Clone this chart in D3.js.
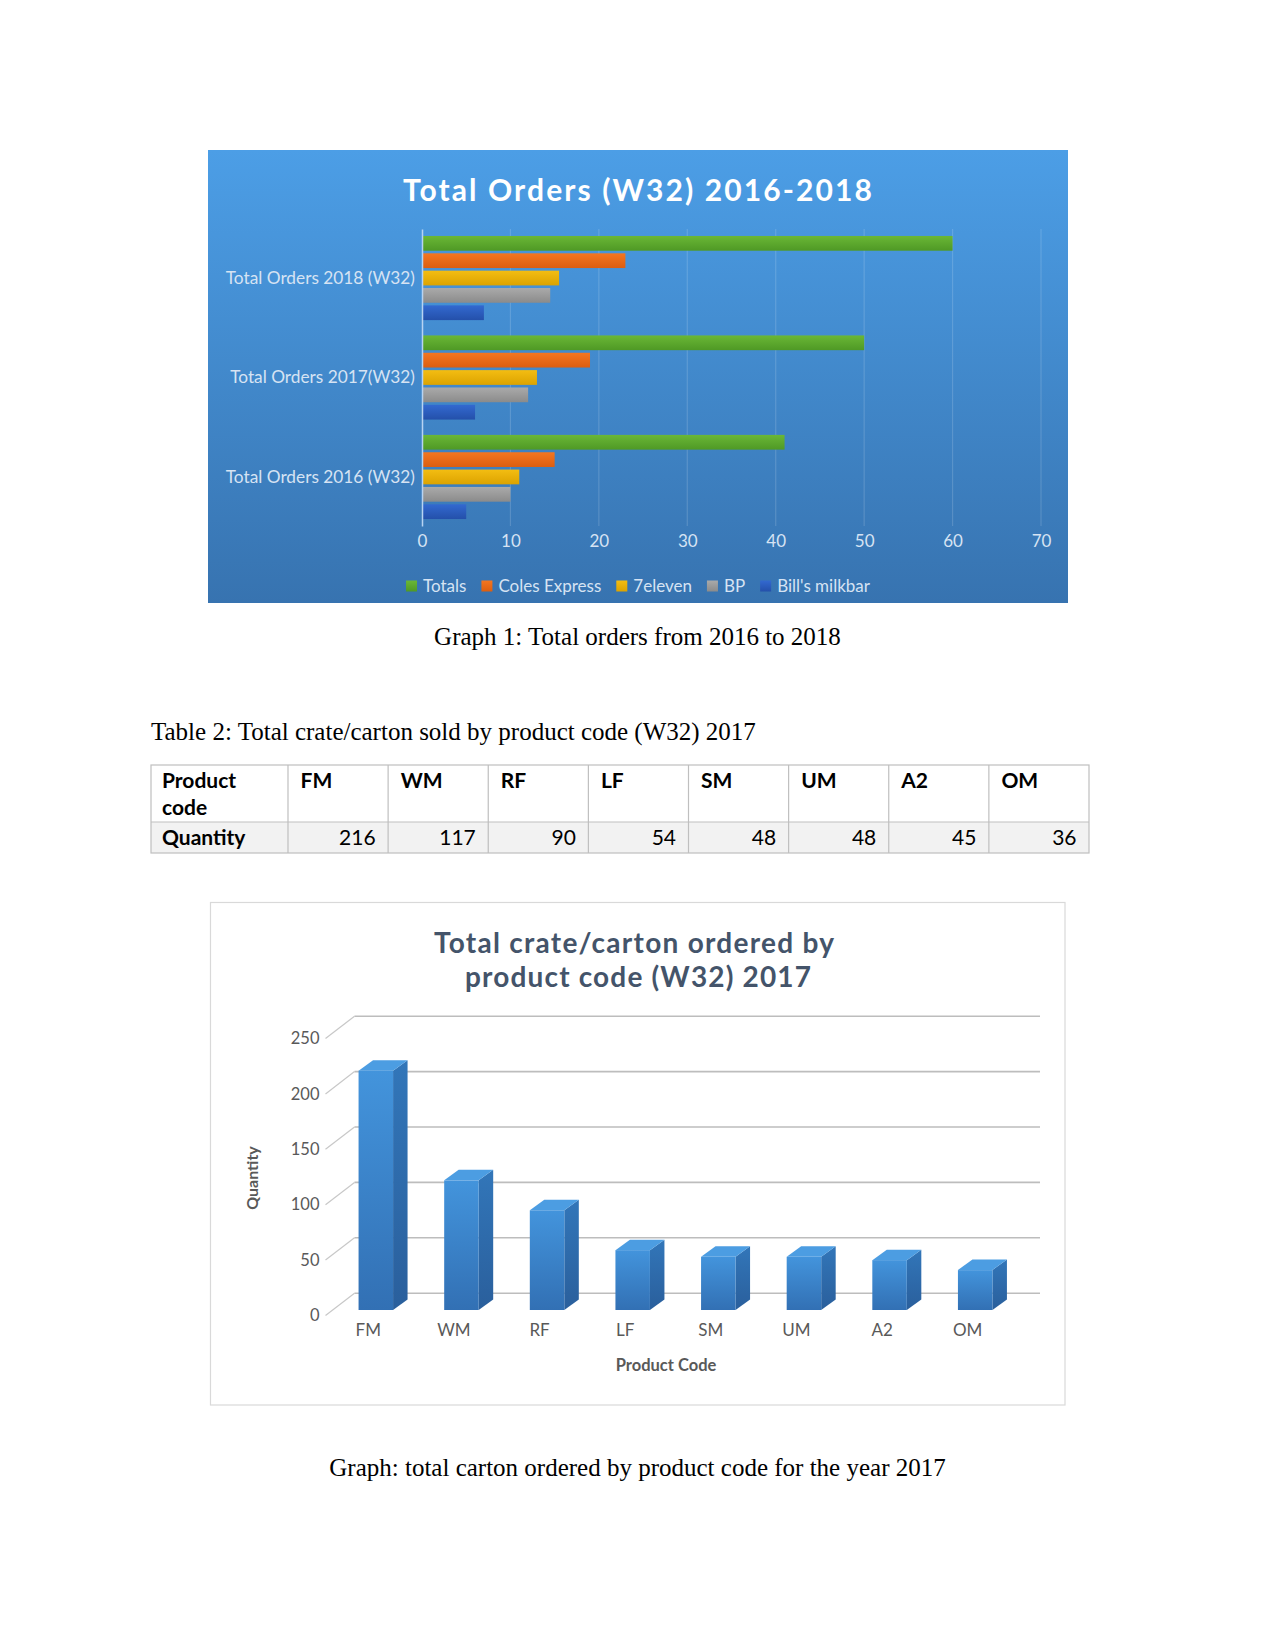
<!DOCTYPE html>
<html>
<head>
<meta charset="utf-8">
<script src="https://cdn.jsdelivr.net/npm/d3@7"></script>
<style>
  body { margin: 0; background: #fff; }
  svg { display: block; }
  .sans { font-family: Lato, "Open Sans", sans-serif; }
  .serif { font-family: "Liberation Serif", "Times New Roman", serif; }
</style>
</head>
<body>
<div id="page"></div>
<script>
// data for graph 1
var years = ["Total Orders 2018 (W32)", "Total Orders 2017(W32)", "Total Orders 2016 (W32)"];
var stores = ["Totals", "Coles Express", "7eleven", "BP", "Bill's milkbar"];
var totals = [60, 50, 41];
var colesExpress = [23, 19, 15];
var sevenEleven = [15.5, 13, 11];
var bp = [14.5, 12, 10];
var billsMilkbar = [7, 6, 5];
var orderTicks = [0, 10, 20, 30, 40, 50, 60, 70];

// data for table 2 and graph 2
var productCodes = ["FM", "WM", "RF", "LF", "SM", "UM", "A2", "OM"];
var quantities = [216, 117, 90, 54, 48, 48, 45, 36];
var quantityTicks = [0, 50, 100, 150, 200, 250];

var svgWidth = 1275;
var svgHeight = 1650;

var svg = d3.select("#page")
  .append("svg")
  .attr("width", svgWidth)
  .attr("height", svgHeight);

svg.append("rect")
  .attr("width", svgWidth)
  .attr("height", svgHeight)
  .attr("fill", "#ffffff");

var defs = svg.append("defs");

function vGradient(id, top, bottom) {
  var g = defs.append("linearGradient")
    .attr("id", id)
    .attr("x1", 0).attr("y1", 0)
    .attr("x2", 0).attr("y2", 1);
  g.append("stop").attr("offset", "0%").attr("stop-color", top);
  g.append("stop").attr("offset", "100%").attr("stop-color", bottom);
}

// ---------- Graph 1 ----------
var box1 = {x: 208, y: 150, w: 860, h: 453};

vGradient("bg1", "#4c9ee6", "#3773b0");
svg.append("rect")
  .attr("x", box1.x)
  .attr("y", box1.y)
  .attr("width", box1.w)
  .attr("height", box1.h)
  .attr("fill", "url(#bg1)");

svg.append("text")
  .classed("sans", true)
  .attr("x", 637.5)
  .attr("y", 201)
  .attr("text-anchor", "middle")
  .attr("font-size", "30px")
  .attr("font-weight", "bold")
  .attr("fill", "#ffffff")
  .attr("textLength", 469)
  .attr("lengthAdjust", "spacing")
  .text("Total Orders (W32) 2016-2018");

var seriesValues = [totals, colesExpress, sevenEleven, bp, billsMilkbar];
var seriesColors = [
  ["#6ab736", "#4f9925"],
  ["#f37621", "#dc5e10"],
  ["#f3bd12", "#dca300"],
  ["#aaaaaa", "#8b8b8b"],
  ["#3369d0", "#2450aa"]
];
seriesColors.forEach(function(c, i) { vGradient("s" + i, c[0], c[1]); });

var xOrders = d3.scaleLinear()
  .domain([0, 70])
  .range([422, 1041]);

var yYears = d3.scaleBand()
  .domain(years)
  .range([229, 526])
  .paddingInner(0.154)
  .paddingOuter(0.07);

var yStores = d3.scaleBand()
  .domain(stores)
  .range([0, yYears.bandwidth()])
  .paddingInner(0.15);

var chart1 = svg.append("g");

// vertical gridlines
chart1.selectAll(".grid1")
  .data(orderTicks.slice(1))
  .enter()
  .append("line")
  .attr("x1", d => xOrders(d))
  .attr("x2", d => xOrders(d))
  .attr("y1", 229)
  .attr("y2", 526)
  .attr("stroke", "#ffffff")
  .attr("stroke-opacity", 0.15)
  .attr("stroke-width", 1.2);

var barRows = [];
years.forEach(function(year, i) {
  stores.forEach(function(store, j) {
    barRows.push({year: year, store: store, idx: j, value: seriesValues[j][i]});
  });
});

chart1.selectAll(".bar1")
  .data(barRows)
  .enter()
  .append("rect")
  .attr("x", xOrders(0))
  .attr("y", d => yYears(d.year) + yStores(d.store))
  .attr("width", d => xOrders(d.value) - xOrders(0))
  .attr("height", yStores.bandwidth())
  .attr("fill", d => "url(#s" + d.idx + ")");

var bottomAxis = d3.axisBottom(xOrders)
  .tickValues(orderTicks)
  .tickSize(0)
  .tickPadding(9);

var xAxis1 = chart1.append("g")
  .attr("transform", "translate(0, 526)")
  .call(bottomAxis);
xAxis1.select(".domain").remove();
xAxis1.selectAll("text")
  .classed("sans", true)
  .attr("font-size", "17px")
  .attr("fill", "#d6e3f3");

var leftAxis = d3.axisLeft(yYears)
  .tickSize(0)
  .tickPadding(7);

var yAxis1 = chart1.append("g")
  .attr("transform", "translate(422, 0)")
  .call(leftAxis);
yAxis1.select(".domain")
  .attr("stroke", "#b7d3f2")
  .attr("stroke-width", 1.5);
yAxis1.selectAll("text")
  .classed("sans", true)
  .attr("font-size", "17.3px")
  .attr("fill", "#d6e3f3");

// legend
var legend = chart1.append("g");
var lx = 0;
stores.forEach(function(store, j) {
  var item = legend.append("g").attr("transform", "translate(" + lx + ",0)");
  item.append("rect")
    .attr("x", 0)
    .attr("y", -5.5)
    .attr("width", 11)
    .attr("height", 11)
    .attr("fill", "url(#s" + j + ")");
  var t = item.append("text")
    .classed("sans", true)
    .attr("x", 17)
    .attr("y", 0)
    .attr("dy", "0.35em")
    .attr("font-size", "17px")
    .attr("fill", "#d6e3f3")
    .text(store);
  lx += 17 + t.node().getComputedTextLength() + 15;
});
lx -= 15;
legend.attr("transform", "translate(" + (638 - lx / 2) + ", 586)");

svg.append("text")
  .classed("serif", true)
  .attr("x", 637.5)
  .attr("y", 645)
  .attr("text-anchor", "middle")
  .attr("font-size", "25px")
  .attr("fill", "#000")
  .text("Graph 1: Total orders from 2016 to 2018");

// ---------- Table 2 ----------
svg.append("text")
  .classed("serif", true)
  .attr("x", 151)
  .attr("y", 740)
  .attr("font-size", "25px")
  .attr("fill", "#000")
  .text("Table 2: Total crate/carton sold by product code (W32) 2017");

var table = svg.append("g");
var tableLeft = 151, firstColRight = 288, tableRight = 1089;
var tableTop = 765, rowDiv = 822, tableBottom = 853;

var colX = d3.scaleBand()
  .domain(productCodes)
  .range([firstColRight, tableRight]);

table.append("rect")
  .attr("x", tableLeft)
  .attr("y", rowDiv)
  .attr("width", tableRight - tableLeft)
  .attr("height", tableBottom - rowDiv)
  .attr("fill", "#f2f2f2");

table.append("rect")
  .attr("x", tableLeft)
  .attr("y", tableTop)
  .attr("width", tableRight - tableLeft)
  .attr("height", tableBottom - tableTop)
  .attr("fill", "none")
  .attr("stroke", "#bfbfbf")
  .attr("stroke-width", 1.2);

table.append("line")
  .attr("x1", tableLeft).attr("x2", tableRight)
  .attr("y1", rowDiv).attr("y2", rowDiv)
  .attr("stroke", "#bfbfbf")
  .attr("stroke-width", 1.2);

table.selectAll(".colline")
  .data(productCodes)
  .enter()
  .append("line")
  .attr("x1", d => colX(d)).attr("x2", d => colX(d))
  .attr("y1", tableTop).attr("y2", tableBottom)
  .attr("stroke", "#bfbfbf")
  .attr("stroke-width", 1.2);

var headText = table.append("text")
  .classed("sans", true)
  .attr("font-size", "21px")
  .attr("font-weight", "bold")
  .attr("fill", "#000");
headText.append("tspan").attr("x", 162).attr("y", 788).text("Product");
headText.append("tspan").attr("x", 162).attr("y", 815).text("code");

table.append("text")
  .classed("sans", true)
  .attr("x", 162)
  .attr("y", 845)
  .attr("font-size", "21px")
  .attr("font-weight", "bold")
  .attr("fill", "#000")
  .text("Quantity");

table.selectAll(".codeHead")
  .data(productCodes)
  .enter()
  .append("text")
  .classed("sans", true)
  .attr("x", d => colX(d) + 12.5)
  .attr("y", 788)
  .attr("font-size", "21px")
  .attr("font-weight", "bold")
  .attr("fill", "#000")
  .text(d => d);

table.selectAll(".qty")
  .data(quantities)
  .enter()
  .append("text")
  .classed("sans", true)
  .attr("x", (d, i) => colX(productCodes[i]) + colX.bandwidth() - 12.5)
  .attr("y", 845)
  .attr("text-anchor", "end")
  .attr("font-size", "21px")
  .attr("fill", "#000")
  .text(d => d);

// ---------- Graph 2 ----------
var box2 = {x: 210.5, y: 902.5, w: 854.5, h: 502.5};
svg.append("rect")
  .attr("x", box2.x)
  .attr("y", box2.y)
  .attr("width", box2.w)
  .attr("height", box2.h)
  .attr("fill", "#ffffff")
  .attr("stroke", "#d9d9d9")
  .attr("stroke-width", 1.2);

var title2 = svg.append("text")
  .classed("sans", true)
  .attr("text-anchor", "middle")
  .attr("font-size", "28px")
  .attr("font-weight", "bold")
  .attr("fill", "#44546a");
title2.append("tspan").attr("x", 634).attr("y", 953)
  .attr("textLength", 400).attr("lengthAdjust", "spacing")
  .text("Total crate/carton ordered by");
title2.append("tspan").attr("x", 638).attr("y", 987)
  .attr("textLength", 346).attr("lengthAdjust", "spacing")
  .text("product code (W32) 2017");

var frontY = d3.scaleLinear()
  .domain([0, 250])
  .range([1315.5, 1038.5]);

var codeBand = d3.scaleBand()
  .domain(productCodes)
  .range([325.5, 1010.5]);

var wallDepth = {x: 29, y: -22.3};
var wallRight = 1040;
var barDepth = {x: 14.5, y: -10.5};
var barShift = {x: 7.5, y: -5.5};
var barWidth = 34.5;

var chart2 = svg.append("g");

// diagonal ticks + back wall gridlines
chart2.selectAll(".diag")
  .data(quantityTicks)
  .enter()
  .append("line")
  .attr("x1", codeBand.range()[0])
  .attr("y1", d => frontY(d))
  .attr("x2", codeBand.range()[0] + wallDepth.x)
  .attr("y2", d => frontY(d) + wallDepth.y)
  .attr("stroke", "#c8c8c8")
  .attr("stroke-width", 1.2);

chart2.selectAll(".grid2")
  .data(quantityTicks)
  .enter()
  .append("line")
  .attr("x1", codeBand.range()[0] + wallDepth.x)
  .attr("y1", d => frontY(d) + wallDepth.y)
  .attr("x2", wallRight)
  .attr("y2", d => frontY(d) + wallDepth.y)
  .attr("stroke", "#bdbdbd")
  .attr("stroke-width", 1.6);

vGradient("front2", "#4394dc", "#3270b4");
vGradient("side2", "#3276b9", "#2a5f9c");

var bars2 = chart2.selectAll(".bar2")
  .data(productCodes.map((c, i) => ({code: c, value: quantities[i]})))
  .enter()
  .append("g");

function bx(d) { return codeBand(d.code) + codeBand.bandwidth() / 2 - barWidth / 2 + barShift.x; }
function byTop(d) { return frontY(d.value) + barShift.y; }
function byBot(d) { return frontY(0) + barShift.y; }

bars2.append("polygon")
  .attr("points", function(d) {
    var x0 = bx(d) + barWidth, yt = byTop(d), yb = byBot(d);
    return [[x0, yt], [x0 + barDepth.x, yt + barDepth.y], [x0 + barDepth.x, yb + barDepth.y], [x0, yb]].join(" ");
  })
  .attr("fill", "url(#side2)");

bars2.append("polygon")
  .attr("points", function(d) {
    var x0 = bx(d), yt = byTop(d);
    return [[x0, yt], [x0 + barDepth.x, yt + barDepth.y], [x0 + barWidth + barDepth.x, yt + barDepth.y], [x0 + barWidth, yt]].join(" ");
  })
  .attr("fill", "#4c9de2");

bars2.append("rect")
  .attr("x", bx)
  .attr("y", byTop)
  .attr("width", barWidth)
  .attr("height", d => byBot(d) - byTop(d))
  .attr("fill", "url(#front2)");

var yAxis2 = chart2.append("g")
  .attr("transform", "translate(" + codeBand.range()[0] + ", 0)")
  .call(d3.axisLeft(frontY).tickValues(quantityTicks).tickSize(0).tickPadding(6));
yAxis2.select(".domain").remove();
yAxis2.selectAll("text")
  .classed("sans", true)
  .attr("font-size", "16.5px")
  .attr("fill", "#595959");

var xAxis2 = chart2.append("g")
  .attr("transform", "translate(0, " + frontY(0) + ")")
  .call(d3.axisBottom(codeBand).tickSize(0).tickPadding(8));
xAxis2.select(".domain").remove();
xAxis2.selectAll("text")
  .classed("sans", true)
  .attr("font-size", "17px")
  .attr("fill", "#595959");

chart2.append("text")
  .classed("sans", true)
  .attr("transform", "translate(252, 1178) rotate(-90)")
  .attr("text-anchor", "middle")
  .attr("dy", "0.35em")
  .attr("font-size", "16px")
  .attr("font-weight", "bold")
  .attr("fill", "#595959")
  .text("Quantity");

chart2.append("text")
  .classed("sans", true)
  .attr("x", 666)
  .attr("y", 1365)
  .attr("dy", "0.35em")
  .attr("text-anchor", "middle")
  .attr("font-size", "16.5px")
  .attr("font-weight", "bold")
  .attr("fill", "#595959")
  .text("Product Code");

svg.append("text")
  .classed("serif", true)
  .attr("x", 637.5)
  .attr("y", 1476)
  .attr("text-anchor", "middle")
  .attr("font-size", "25px")
  .attr("fill", "#000")
  .text("Graph: total carton ordered by product code for the year 2017");
</script>
</body>
</html>
